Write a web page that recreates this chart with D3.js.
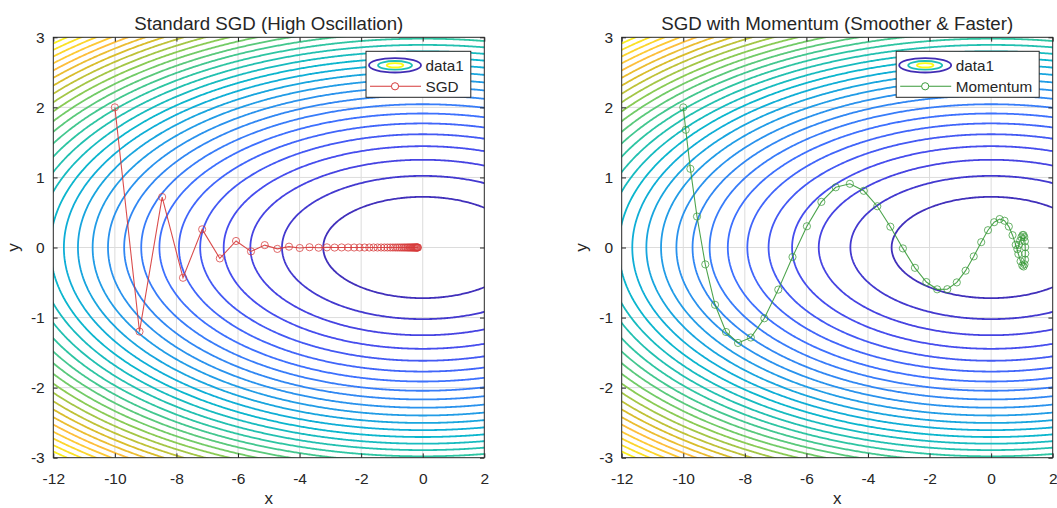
<!DOCTYPE html>
<html>
<head>
<meta charset="utf-8">
<script src="https://cdn.jsdelivr.net/npm/d3@7"></script>
<style>
  body { margin: 0; background: #fff; }
  text { font-family: "Liberation Sans", Arial, sans-serif; fill: #262626; }
</style>
</head>
<body>
<div id="chart"></div>
<script>

// tick labels
var xTicks = [-12, -10, -8, -6, -4, -2, 0, 2];
var yTicks = [-3, -2, -1, 0, 1, 2, 3];

// standard SGD path
var sgdX = [-10, -9.2, -8.464, -7.787, -7.164, -6.591, -6.064, -5.578, -5.132, -4.722,
  -4.344, -3.996, -3.677, -3.383, -3.112, -2.863, -2.634, -2.423, -2.229, -2.051,
  -1.887, -1.736, -1.597, -1.469, -1.352, -1.244, -1.144, -1.053, -0.968, -0.891,
  -0.820, -0.754, -0.694, -0.638, -0.587, -0.540, -0.497, -0.457, -0.421, -0.387,
  -0.356, -0.328, -0.301, -0.277, -0.255, -0.235, -0.216, -0.199, -0.183, -0.168, -0.155];
var sgdY = [2, -1.2, 0.72, -0.432, 0.259, -0.156, 0.093, -0.056, 0.034, -0.020,
  0.012, -0.007, 0.004, -0.003, 0.002, -0.001, 0.001, 0, 0, 0,
  0, 0, 0, 0, 0, 0, 0, 0, 0, 0,
  0, 0, 0, 0, 0, 0, 0, 0, 0, 0,
  0, 0, 0, 0, 0, 0, 0, 0, 0, 0, 0];

// momentum path
var momX = [-10.000, -9.920, -9.769, -9.554, -9.285, -8.968, -8.611, -8.221, -7.805, -7.367,
  -6.914, -6.452, -5.984, -5.514, -5.048, -4.588, -4.137, -3.698, -3.274, -2.866,
  -2.475, -2.104, -1.753, -1.423, -1.115, -0.829, -0.565, -0.322, -0.102, 0.098,
  0.277, 0.435, 0.575, 0.695, 0.799, 0.885, 0.956, 1.012, 1.054, 1.084,
  1.102, 1.109, 1.107, 1.096, 1.077, 1.052, 1.021, 0.985, 0.944, 0.900, 0.853];
var momY = [2.000, 1.680, 1.123, 0.442, -0.241, -0.818, -1.206, -1.362, -1.285, -1.010,
  -0.601, -0.136, 0.303, 0.651, 0.859, 0.909, 0.809, 0.589, 0.297, -0.013,
  -0.290, -0.493, -0.597, -0.595, -0.498, -0.331, -0.127, 0.076, 0.247, 0.361,
  0.406, 0.382, 0.299, 0.176, 0.038, -0.093, -0.196, -0.257, -0.271, -0.240,
  -0.174, -0.087, 0.006, 0.088, 0.148, 0.178, 0.177, 0.147, 0.097, 0.037, -0.024];

// loss surface f = x^2 + 20 y^2, 30 contour levels
var nLevels = 30;
var zMax = 324;

var W = 1057, H = 508;
var plotTop = 37.3, ph = 420.4, pw = 431;
var panels = [
  {left: 53.3, title: "Standard SGD (High Oscillation)", xs: sgdX, ys: sgdY, color: "#d63a3a", name: "SGD"},
  {left: 621.7, title: "SGD with Momentum (Smoother & Faster)", xs: momX, ys: momY, color: "#3a9a3a", name: "Momentum"}
];

// parula-ish colormap
var parula = d3.scaleLinear()
  .domain([0, 7, 14, 21, 28, 35, 42, 49, 53, 56, 63].map(function(i) { return i / 63; }))
  .range(["#3e26a8", "#4747eb", "#3e6fff", "#2796eb", "#08b5d0", "#31c69f", "#81cc59", "#dcbd29", "#febe3c", "#fccf30", "#f9fb15"])
  .interpolate(d3.interpolateRgb);

var levels = d3.range(1, nLevels + 1).map(function(i) { return i * zMax / (nLevels + 1); });

// grid, a bit wider than the axes so nothing closes along the frame
var step = 0.04, gx0 = -12.6, gx1 = 2.6, gy0 = -3.6, gy1 = 3.6;
var nx = Math.round((gx1 - gx0) / step) + 1, ny = Math.round((gy1 - gy0) / step) + 1;
var grid = new Array(nx * ny);
for (var j = 0; j < ny; j++) {
  for (var i = 0; i < nx; i++) {
    var gx = gx0 + i * step, gy = gy0 + j * step;
    grid[j * nx + i] = gx * gx + 20 * gy * gy;
  }
}
var contours = d3.contours().size([nx, ny]).thresholds(levels)(grid);

var svg = d3.select("#chart").append("svg")
  .attr("width", W)
  .attr("height", H);

svg.append("rect").attr("width", W).attr("height", H).attr("fill", "#fff");

panels.forEach(function(p, pi) {
  var x = d3.scaleLinear().domain([-12, 2]).range([p.left, p.left + pw]);
  var y = d3.scaleLinear().domain([-3, 3]).range([plotTop + ph, plotTop]);

  var g = svg.append("g");

  g.append("clipPath").attr("id", "clip" + pi)
    .append("rect")
    .attr("x", p.left).attr("y", plotTop).attr("width", pw).attr("height", ph);

  // grid lines
  g.append("g").selectAll("line").data(xTicks.slice(1, -1)).enter().append("line")
    .attr("x1", function(d) { return x(d); }).attr("x2", function(d) { return x(d); })
    .attr("y1", plotTop).attr("y2", plotTop + ph)
    .attr("stroke", "#dcdcdc").attr("stroke-width", 1);
  g.append("g").selectAll("line").data(yTicks.slice(1, -1)).enter().append("line")
    .attr("y1", function(d) { return y(d); }).attr("y2", function(d) { return y(d); })
    .attr("x1", p.left).attr("x2", p.left + pw)
    .attr("stroke", "#dcdcdc").attr("stroke-width", 1);

  // contours
  var proj = d3.geoTransform({
    point: function(cx, cy) {
      this.stream.point(x(gx0 + (cx - 0.5) * step), y(gy0 + (cy - 0.5) * step));
    }
  });
  var path = d3.geoPath(proj);
  g.append("g").attr("clip-path", "url(#clip" + pi + ")")
    .selectAll("path").data(contours).enter().append("path")
    .attr("d", path)
    .attr("fill", "none")
    .attr("stroke", function(d) { return parula(d.value / zMax); })
    .attr("stroke-width", 1.8);

  // path of the optimiser
  var pts = p.xs.map(function(v, k) { return [v, p.ys[k]]; });
  var tr = g.append("g").attr("clip-path", "url(#clip" + pi + ")");
  tr.append("path")
    .attr("d", d3.line().x(function(d) { return x(d[0]); }).y(function(d) { return y(d[1]); })(pts))
    .attr("fill", "none")
    .attr("stroke", p.color)
    .attr("stroke-width", 1.1)
    .attr("stroke-opacity", 0.9);
  tr.selectAll("circle").data(pts).enter().append("circle")
    .attr("cx", function(d) { return x(d[0]); })
    .attr("cy", function(d) { return y(d[1]); })
    .attr("r", 3.6)
    .attr("fill", "none")
    .attr("stroke", p.color)
    .attr("stroke-width", 1)
    .attr("stroke-opacity", 0.75);

  // axes, ticks inward on all four sides
  var tk = 4.3;
  var ax = g.append("g").attr("transform", "translate(0," + (plotTop + ph) + ")")
    .call(d3.axisBottom(x).tickValues(xTicks).tickSize(-tk).tickPadding(15.6));
  g.append("g").attr("transform", "translate(0," + plotTop + ")")
    .call(d3.axisTop(x).tickValues(xTicks).tickSize(-tk).tickFormat(""));
  var ay = g.append("g").attr("transform", "translate(" + p.left + ",0)")
    .call(d3.axisLeft(y).tickValues(yTicks).tickSize(-tk).tickPadding(8.6));
  g.append("g").attr("transform", "translate(" + (p.left + pw) + ",0)")
    .call(d3.axisRight(y).tickValues(yTicks).tickSize(-tk).tickFormat(""));
  g.selectAll(".domain").remove();
  g.selectAll(".tick line").attr("stroke", "#262626");
  g.selectAll(".tick text")
    .style("font-family", "'Liberation Sans', Arial, sans-serif")
    .style("font-size", "15.5px")
    .attr("fill", "#262626");
  ax.selectAll(".tick text").text(function(d) { return d < 0 ? "-" + Math.abs(d) : d; });
  ay.selectAll(".tick text").text(function(d) { return d < 0 ? "-" + Math.abs(d) : d; });

  g.append("rect")
    .attr("x", p.left).attr("y", plotTop).attr("width", pw).attr("height", ph)
    .attr("fill", "none").attr("stroke", "#262626").attr("stroke-width", 1);

  // title and axis labels
  g.append("text")
    .attr("x", p.left + pw / 2).attr("y", 29.5)
    .attr("text-anchor", "middle")
    .style("font-size", "18.7px")
    .text(p.title);
  g.append("text")
    .attr("x", p.left + pw / 2).attr("y", 503.5)
    .attr("text-anchor", "middle")
    .style("font-size", "17px")
    .text("x");
  g.append("text")
    .attr("transform", "translate(" + (p.left - 34.5) + "," + (plotTop + ph / 2) + ") rotate(-90)")
    .attr("text-anchor", "middle")
    .style("font-size", "17px")
    .text("y");

  // legend
  var lg = g.append("g");
  var box = lg.append("rect").attr("fill", "#fff").attr("stroke", "#262626").attr("stroke-width", 1);
  var iconL = 3, iconW = 52, textX = 59.5;
  var t1 = lg.append("text").attr("x", textX).attr("y", 14 + 5.4).style("font-size", "15.3px").text("data1");
  var t2 = lg.append("text").attr("x", textX).attr("y", 35 + 5.4).style("font-size", "15.3px").text(p.name);
  var tw = Math.max(t1.node().getComputedTextLength(), t2.node().getComputedTextLength());
  var bw = textX + tw + 7, bh = 46;
  box.attr("width", bw).attr("height", bh);
  var cxI = iconL + iconW / 2;
  [[26, 7.2, 0.02], [17, 4.3, 0.5], [8.3, 2.2, 1]].forEach(function(e) {
    lg.append("ellipse").attr("cx", cxI).attr("cy", 14)
      .attr("rx", e[0]).attr("ry", e[1])
      .attr("fill", "none").attr("stroke", parula(e[2])).attr("stroke-width", 1.8);
  });
  lg.append("line").attr("x1", iconL + 1).attr("x2", iconL + iconW).attr("y1", 35).attr("y2", 35)
    .attr("stroke", p.color).attr("stroke-width", 1.1);
  lg.append("circle").attr("cx", cxI).attr("cy", 35).attr("r", 3.6)
    .attr("fill", "#fff").attr("stroke", p.color).attr("stroke-width", 1);
  lg.attr("transform", "translate(" + (p.left + pw - 13.5 - bw) + "," + (plotTop + 14) + ")");
});

</script>
</body>
</html>
